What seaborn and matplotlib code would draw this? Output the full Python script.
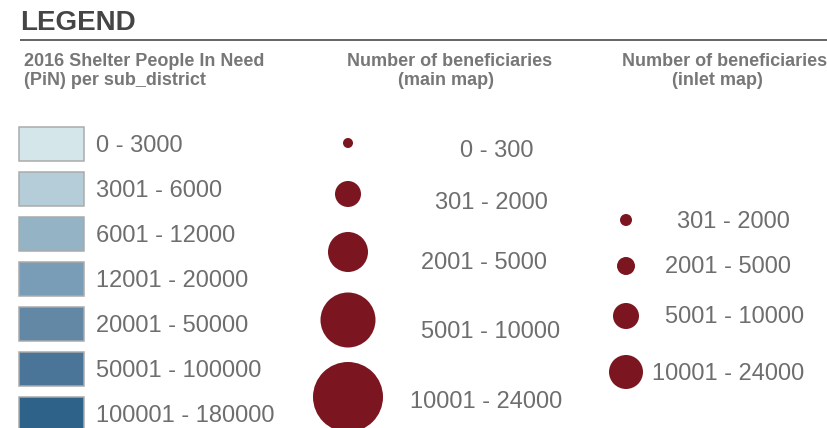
#!/usr/bin/env python3
"""Map legend: shelter PiN classes and beneficiary circle sizes."""

import matplotlib.pyplot as plt
import pandas as pd
import seaborn as sns

# ---- content -------------------------------------------------------------
TITLE = "LEGEND"
PIN_HEADER = ["2016 Shelter People In Need", "(PiN) per sub_district"]
MAIN_HEADER = ["Number of beneficiaries", "(main map)"]
INLET_HEADER = ["Number of beneficiaries", "(inlet map)"]

PIN_CLASSES = [
    "0 - 3000",
    "3001 - 6000",
    "6001 - 12000",
    "12001 - 20000",
    "20001 - 50000",
    "50001 - 100000",
    "100001 - 180000",
]
MAIN_CLASSES = ["0 - 300", "301 - 2000", "2001 - 5000", "5001 - 10000", "10001 - 24000"]
INLET_CLASSES = ["301 - 2000", "2001 - 5000", "5001 - 10000", "10001 - 24000"]

# ---- style / layout (axes are in pixel units, y pointing down) -----------
PIN_COLORS = ["#d5e6ea", "#b4cdd8", "#94b3c5", "#799db6", "#6288a6", "#4a7498", "#2f6288"]
RED = "#7b1520"
LABEL_GREY = "#6e6e6e"
HEAD_GREY = "#777777"
HEAD_SIZE = 13

BOX_LEFT, BOX_W, BOX_H = 19, 65, 34
BOX_ROW0, BOX_PITCH = 144, 45
BOX_LABEL_X = 96

MAIN_X = 348
MAIN_RADII = [5, 13, 20, 27.5, 35]
MAIN_Y = [143, 194, 252, 320, 397]
MAIN_LABEL_X = [497, 491, 484, 491, 486]
MAIN_LABEL_BASE = [157, 209, 269, 338, 408]

INLET_X = 626
INLET_RADII = [6, 9, 13, 17]
INLET_Y = [220, 266, 316, 372]
INLET_LABEL_X = [733, 728, 735, 728]
INLET_LABEL_BASE = [228, 273, 323, 380]

W, H, DPI = 827, 428, 100


def area(radius_px):
    # scatter size is in points^2; convert pixel radius -> diameter in points
    return (2 * radius_px * 72 / DPI) ** 2


def circles(ax, classes, radii, x, ys):
    df = pd.DataFrame({"cls": classes, "x": [x] * len(classes), "y": ys})
    sns.scatterplot(
        data=df, x="x", y="y", size="cls",
        sizes={c: area(r) for c, r in zip(classes, radii)},
        size_order=classes, color=RED, linewidth=0, legend=False, ax=ax,
    )


sns.set_theme(style="white")
plt.rcParams["font.family"] = ["Liberation Sans", "DejaVu Sans"]

fig = plt.figure(figsize=(W / DPI, H / DPI), dpi=DPI)
ax = fig.add_axes([0, 0, 1, 1])

# title + rule
ax.text(20, 30, TITLE, fontsize=20, fontweight="bold", color="#454545", va="baseline")
ax.plot([20, W], [40, 40], color="#3a3a3a", lw=1.1, solid_capstyle="butt")

# column headers
head = dict(fontsize=HEAD_SIZE, fontweight="bold", color=HEAD_GREY)
ax.text(24, 66, PIN_HEADER[0], **head)
ax.text(24, 84.5, PIN_HEADER[1], **head)
ax.text(450, 66, MAIN_HEADER[0], ha="center", **head)
ax.text(446, 84.5, MAIN_HEADER[1], ha="center", **head)
ax.text(725, 66, INLET_HEADER[0], ha="center", **head)
ax.text(717, 84.5, INLET_HEADER[1], ha="center", **head)

# PiN choropleth classes
centers = [BOX_ROW0 + i * BOX_PITCH for i in range(len(PIN_CLASSES))]
ax.barh(centers, [BOX_W] * len(PIN_CLASSES), left=BOX_LEFT, height=BOX_H,
        color=PIN_COLORS, edgecolor="#ababab", linewidth=1.1)
for label, yc in zip(PIN_CLASSES, centers):
    ax.text(BOX_LABEL_X, yc + 8.3, label, fontsize=17, color=LABEL_GREY, va="baseline")

# beneficiary circles
circles(ax, MAIN_CLASSES, MAIN_RADII, MAIN_X, MAIN_Y)
for label, lx, ly in zip(MAIN_CLASSES, MAIN_LABEL_X, MAIN_LABEL_BASE):
    ax.text(lx, ly, label, fontsize=17, color=LABEL_GREY, ha="center", va="baseline")

circles(ax, INLET_CLASSES, INLET_RADII, INLET_X, INLET_Y)
for label, lx, ly in zip(INLET_CLASSES, INLET_LABEL_X, INLET_LABEL_BASE):
    ax.text(lx, ly, label, fontsize=17, color=LABEL_GREY, ha="center", va="baseline")

ax.set_xlim(0, W)
ax.set_ylim(H, 0)
ax.axis("off")

fig.savefig("out.png", dpi=DPI, facecolor="white")
plt.close(fig)
